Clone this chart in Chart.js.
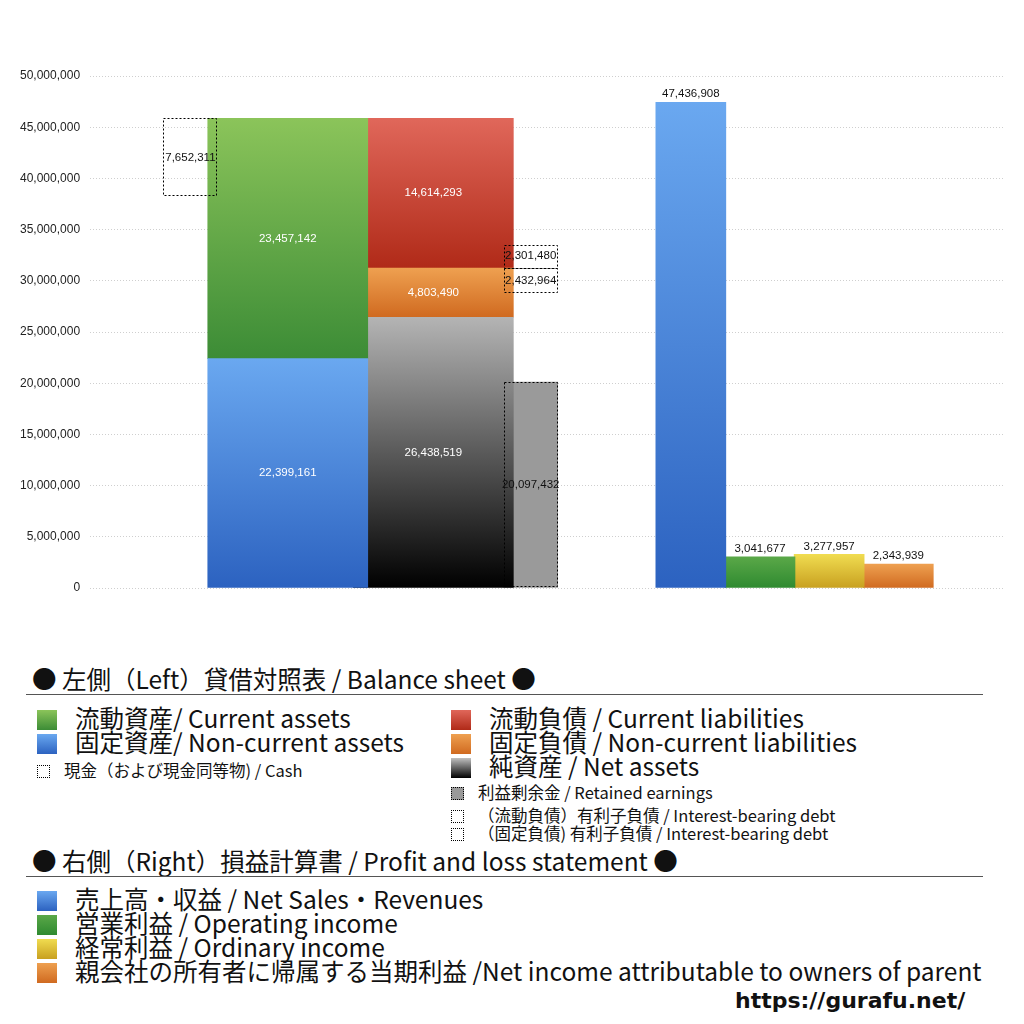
<!DOCTYPE html>
<html><head><meta charset="utf-8">
<script src="https://cdn.jsdelivr.net/npm/chart.js@4/dist/chart.umd.min.js"></script>
<style>
body{margin:0;background:#fff;font-family:"Noto Sans CJK JP","Noto Sans",sans-serif;}
#wrap{position:relative;width:1024px;height:1024px;}
#c{position:absolute;left:0;top:0;}
.lg{position:absolute;color:#111;white-space:nowrap;}
.sw{display:inline-block;width:20px;height:20px;vertical-align:-2px;margin-right:18px;}
.ss{display:inline-block;width:13px;height:13px;vertical-align:-1px;margin-right:14px;}
.big{font-size:24.5px;line-height:24px;}
.sm{font-size:16.5px;line-height:18px;}
.hr{position:absolute;left:26px;width:957px;border-top:1px solid #555;}
</style></head><body>
<div id="wrap">
<canvas id="c" width="1024" height="610"></canvas>
<div class="lg big" style="left:32px;top:667px">● 左側（Left）貸借対照表 / Balance sheet ●</div>
<div class="hr" style="top:694px"></div>
<div class="lg big" style="left:37px;top:706px"><span class="sw" style="background:linear-gradient(#8bc45a,#3c8c36)"></span>流動資産/ Current assets</div>
<div class="lg big" style="left:37px;top:730px"><span class="sw" style="background:linear-gradient(#6aa8f0,#2c62c0)"></span>固定資産/ Non-current assets</div>
<div class="lg sm" style="left:37px;top:761px"><span class="ss" style="border:1px dotted #000;width:11px;height:11px"></span>現金（および現金同等物) / Cash</div>
<div class="lg big" style="left:451px;top:706px"><span class="sw" style="background:linear-gradient(#e0675a,#b02a18)"></span>流動負債 /  Current liabilities</div>
<div class="lg big" style="left:451px;top:730px"><span class="sw" style="background:linear-gradient(#eea050,#d06a20)"></span>固定負債 / Non-current liabilities</div>
<div class="lg big" style="left:451px;top:754px"><span class="sw" style="background:linear-gradient(#c0c0c0,#000)"></span>純資産 / Net assets</div>
<div class="lg sm" style="left:451px;top:783px"><span class="ss" style="background:#999;border:1px dotted #000;width:11px;height:11px"></span>利益剰余金 / Retained earnings</div>
<div class="lg sm" style="left:451px;top:806px"><span class="ss" style="border:1px dotted #000;width:11px;height:11px"></span>（流動負債）有利子負債 / Interest-bearing debt</div>
<div class="lg sm" style="left:451px;top:824px"><span class="ss" style="border:1px dotted #000;width:11px;height:11px"></span>（固定負債) 有利子負債 / Interest-bearing debt</div>
<div class="lg big" style="left:32px;top:849px">● 右側（Right）損益計算書 / Profit and loss statement ●</div>
<div class="hr" style="top:876px"></div>
<div class="lg big" style="left:37px;top:887px"><span class="sw" style="background:linear-gradient(#6aa8f0,#2c62c0)"></span>売上高・収益 / Net Sales・Revenues</div>
<div class="lg big" style="left:37px;top:911px"><span class="sw" style="background:linear-gradient(#5aa848,#2f8a30)"></span>営業利益 / Operating income</div>
<div class="lg big" style="left:37px;top:935px"><span class="sw" style="background:linear-gradient(#f0dc50,#c8a020)"></span>経常利益 / Ordinary income</div>
<div class="lg big" style="left:37px;top:959px"><span class="sw" style="background:linear-gradient(#eea050,#d06a20)"></span>親会社の所有者に帰属する当期利益 /Net income attributable to owners of parent</div>
<div class="lg" style="left:735px;top:988px;font-size:22px;font-weight:bold;font-family:'DejaVu Sans'">https://gurafu.net/</div>
</div>
<script>
// values
const cash = 7652311;
const currentAssets = 23457142;
const nonCurrentAssets = 22399161;
const currentLiabilities = 14614293;
const nonCurrentLiabilities = 4803490;
const netAssets = 26438519;
const retainedEarnings = 20097432;
const debtCurrent = 2301480;
const debtNonCurrent = 2432964;
const plLabels = ['売上高','営業利益','経常利益','当期利益'];
const plValues = [47436908, 3041677, 3277957, 2343939];
const yTicks = [0,5000000,10000000,15000000,20000000,25000000,30000000,35000000,40000000,45000000,50000000];
// slot centres on the x axis (arbitrary units)
const slots = {cash:60, assets:167, liab:327, debt:434, pl:[610,686,762,838]};

const totalAssets = currentAssets + nonCurrentAssets;
const liabBoundary = netAssets + nonCurrentLiabilities;

function grad(top, bottom){
  return function(ctx){
    const ch = ctx.chart; const y = ch.scales.y; if(!y) return top;
    const el = ctx.raw; if(!el) return top;
    const lo = el.y[0], hi = el.y[1];
    const p1 = y.getPixelForValue(hi), p2 = y.getPixelForValue(lo);
    if(!isFinite(p1) || !isFinite(p2) || p1===p2) return top;
    const g = ch.ctx.createLinearGradient(0, p1, 0, p2);
    g.addColorStop(0, top); g.addColorStop(1, bottom); return g;
  };
}
function ds(x, lo, hi, w, top, bottom, opts){
  return Object.assign({data:[{x:x, y:[lo,hi]}], barThickness:w, backgroundColor:grad(top,bottom), borderWidth:0, grouped:false}, opts||{});
}
const datasets = [
  ds(slots.assets, 0, nonCurrentAssets, 160, '#6aa8f0', '#2c62c0', {lbl:nonCurrentAssets, inner:true}),
  ds(slots.assets, nonCurrentAssets, totalAssets, 160, '#8bc45a', '#3c8c36', {lbl:currentAssets, inner:true}),
  ds(slots.liab, 0, netAssets, 160, '#b4b4b4', '#000000', {lbl:netAssets, inner:true}),
  ds(slots.liab, netAssets, liabBoundary, 160, '#eea050', '#d06a20', {lbl:nonCurrentLiabilities, inner:true}),
  ds(slots.liab, liabBoundary, liabBoundary+currentLiabilities, 160, '#e0675a', '#b02a18', {lbl:currentLiabilities, inner:true}),
  ds(slots.cash, totalAssets-cash, totalAssets, 54, 'rgba(0,0,0,0)', 'rgba(0,0,0,0)', {lbl:cash, dotted:true}),
  ds(slots.debt, 0, retainedEarnings, 54, '#9a9a9a', '#9a9a9a', {lbl:retainedEarnings, dotted:true}),
  ds(slots.debt, liabBoundary, liabBoundary+debtCurrent, 54, 'rgba(0,0,0,0)', 'rgba(0,0,0,0)', {lbl:debtCurrent, dotted:true}),
  ds(slots.debt, liabBoundary-debtNonCurrent, liabBoundary, 54, 'rgba(0,0,0,0)', 'rgba(0,0,0,0)', {lbl:debtNonCurrent, dotted:true}),
];
const plCols = [['#6aa8f0','#2c62c0'],['#5aa848','#2f8a30'],['#f0dc50','#c8a020'],['#eea050','#d06a20']];
plValues.forEach((v,i)=>datasets.push(ds(slots.pl[i], 0, v, 70, plCols[i][0], plCols[i][1], {lbl:v, above:true})));

const plug = {
  id:'marks',
  afterDatasetsDraw(chart){
    const c = chart.ctx;
    chart.data.datasets.forEach((d,i)=>{
      const el = chart.getDatasetMeta(i).data[0];
      if(!el) return;
      const l = el.x - el.width/2, r = el.x + el.width/2, t = Math.min(el.y, el.base), b = Math.max(el.y, el.base);
      c.save();
      if(d.dotted){
        c.setLineDash([2,2]); c.strokeStyle='#000'; c.lineWidth=1;
        c.strokeRect(Math.round(l)+0.5, Math.round(t)+0.5, Math.round(r-l)-1, Math.round(b-t)-1);
      }
      c.setLineDash([]);
      c.font = '11.5px "Liberation Sans", sans-serif'; c.textAlign='center'; c.textBaseline='middle';
      const txt = d.lbl.toLocaleString('en-US');
      if(d.above){ c.fillStyle='#111'; c.fillText(txt, el.x, t-8); }
      else { c.fillStyle = d.inner ? '#fff' : '#111'; c.fillText(txt, el.x, (t+b)/2); }
      c.restore();
    });
  }
};

new Chart(document.getElementById('c'), {
  type:'bar',
  data:{datasets},
  options:{
    responsive:false, animation:false,
    layout:{padding:{top:76,bottom:22,left:10,right:19}},
    plugins:{legend:{display:false}, tooltip:{enabled:false}},
    scales:{
      x:{type:'linear', min:0, max:905, display:false},
      y:{min:0, max:50000000, afterBuildTicks(s){s.ticks = yTicks.map(v=>({value:v}));},
         ticks:{color:'#222', font:{size:12, family:'"Liberation Sans", sans-serif'}, callback:v=>v.toLocaleString('en-US'), padding:10},
         grid:{color:'#cfcfcf', drawTicks:false},
         border:{display:false, dash:[1,2]}}
    }
  },
  plugins:[plug]
});
</script>
</body></html>
